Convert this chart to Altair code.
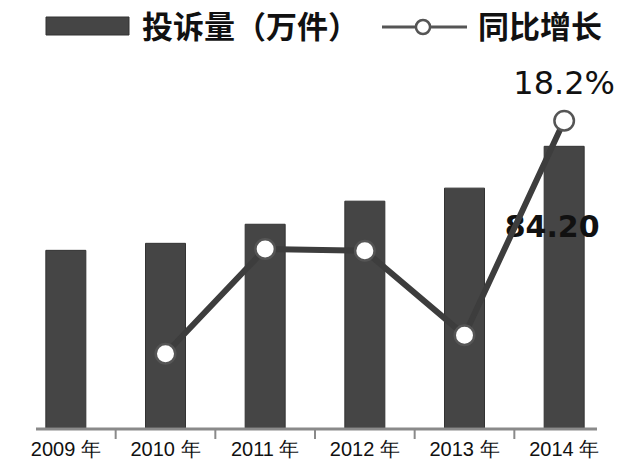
import altair as alt
import pandas as pd

years = ["2009年", "2010年", "2011年", "2012年", "2013年", "2014年"]
complaints = [53.1, 55.2, 60.9, 67.8, 71.7, 84.2]
growth = [None, 4.4, 10.6, 10.5, 5.5, 18.2]

df = pd.DataFrame({"year": years, "complaints": complaints, "growth": growth})

BAR_DOMAIN = [0, 110]
PCT_DOMAIN = [0, 21.8]
DARK = "#454545"
AXIS_GRAY = "#8a8a8a"

xscale = alt.Scale(paddingInner=0, paddingOuter=0)
xenc = alt.X(
    "year:N", sort=years, title=None, scale=xscale,
    axis=alt.Axis(labelAngle=0, labelFontSize=20, labelFont="Liberation Sans",
                  labelColor="#111", labelPadding=11, domain=False, ticks=False,
                  labelExpr="replace(datum.label, '年', ' 年')"),
)

base = alt.Chart(df).encode(x=xenc)

bars = base.mark_bar(size=40, color=DARK, stroke="#333", strokeWidth=1).encode(
    y=alt.Y("complaints:Q", scale=alt.Scale(domain=BAR_DOMAIN), axis=None)
)

# axis baseline and ticks at category boundaries
axis_line = alt.Chart(pd.DataFrame({"a": [0]})).mark_rule(
    color=AXIS_GRAY, strokeWidth=3).encode(
    x=alt.value(20), x2=alt.value(581), y=alt.value(369))
ticks = base.transform_filter("datum.year != '2009年'").mark_rule(
    color=AXIS_GRAY, strokeWidth=2).encode(
    x=alt.X("year:N", sort=years, scale=xscale, bandPosition=0, title=None),
    y=alt.value(369), y2=alt.value(379))

bar_label = base.transform_filter("datum.year == '2014年'").mark_text(
    dy=82, dx=-12, fontSize=30, fontWeight="bold", font="DejaVu Sans", color="#111"
).encode(
    y=alt.Y("complaints:Q", scale=alt.Scale(domain=BAR_DOMAIN), axis=None),
    text=alt.Text("complaints:Q", format=".2f"),
)

gbase = base.transform_filter("datum.growth != null")
gy = alt.Y("growth:Q", scale=alt.Scale(domain=PCT_DOMAIN), axis=None)

line = gbase.mark_line(color="#3d3d3d", strokeWidth=6).encode(y=gy)
points = gbase.mark_point(filled=True, fill="white", stroke="#555", strokeWidth=2.5,
                          size=380, opacity=1).encode(y=gy)
pct_label = gbase.transform_filter("datum.year == '2014年'").mark_text(
    dy=-37, fontSize=32, font="DejaVu Sans", color="#111"
).encode(y=gy, text=alt.Text("label:N")).transform_calculate(
    label="format(datum.growth, '.1f') + '%'"
)

# Legend (manual, above plot)
ld = alt.Chart(pd.DataFrame({"a": [0]}))
leg_rect = ld.mark_rect(color=DARK, stroke="#333").encode(
    x=alt.value(30), x2=alt.value(113), y=alt.value(-43), y2=alt.value(-25))
leg_t1 = ld.mark_text(align="left", baseline="middle", fontSize=31,
                      font="Noto Sans CJK SC", fontWeight="bold", color="#111").encode(
    x=alt.value(126), y=alt.value(-31), text=alt.value("投诉量（万件）"))
leg_line = ld.mark_rule(color="#555", strokeWidth=3).encode(
    x=alt.value(366), x2=alt.value(451), y=alt.value(-33))
leg_pt = ld.mark_point(filled=True, fill="white", stroke="#555", strokeWidth=2.5,
                       size=200, opacity=1).encode(x=alt.value(407), y=alt.value(-33))
leg_t2 = ld.mark_text(align="left", baseline="middle", fontSize=31,
                      font="Noto Sans CJK SC", fontWeight="bold", color="#111").encode(
    x=alt.value(462), y=alt.value(-31), text=alt.value("同比增长"))

chart = alt.layer(
    bars, axis_line, ticks, bar_label, line, points, pct_label,
    leg_rect, leg_t1, leg_line, leg_pt, leg_t2,
).resolve_scale(y="independent").properties(
    width=598, height=368,
    autosize=alt.AutoSizeParams(type="none"),
    padding={"left": 8, "top": 52, "right": 8, "bottom": 40},
).configure_view(stroke=None)

chart.save("out.html", embed_options={"renderer": "svg", "actions": False})
